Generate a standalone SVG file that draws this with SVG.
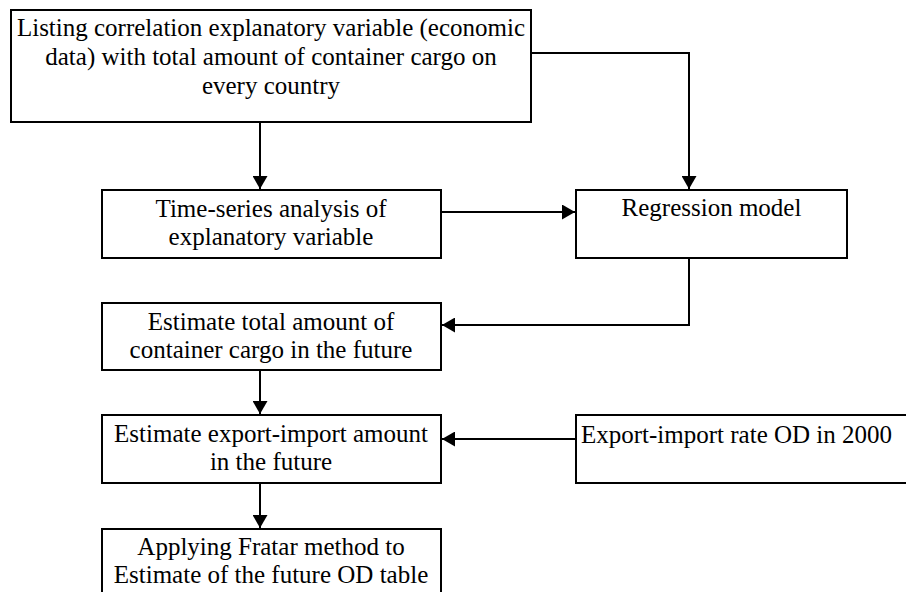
<svg xmlns="http://www.w3.org/2000/svg" width="906" height="592" viewBox="0 0 906 592">
<style>
.box{fill:#fff;stroke:#000;stroke-width:2}
.t{font-family:'Liberation Serif','DejaVu Serif',serif;font-size:25px;fill:#000;text-anchor:middle}
.tl{text-anchor:start}
.c{fill:none;stroke:#000;stroke-width:2}
</style>
<defs>
<marker id="ah" markerUnits="userSpaceOnUse" markerWidth="14" markerHeight="15" refX="13" refY="7.5" orient="auto">
<path d="M0,0 L13,7.5 L0,15 z" fill="#000"/>
</marker>
</defs>
<rect width="906" height="592" fill="#fff"/>
<g id="n1">
<rect class="box" x="11" y="10" width="520" height="112"/>
<text class="t" x="271" y="36">Listing correlation explanatory variable (economic</text>
<text class="t" x="271" y="65">data) with total amount of container cargo on</text>
<text class="t" x="271" y="94">every country</text>
</g>
<g id="n2">
<rect class="box" x="102" y="190" width="339" height="68"/>
<text class="t" x="271" y="217">Time-series analysis of</text>
<text class="t" x="271" y="245">explanatory variable</text>
</g>
<g id="n3">
<rect class="box" x="576" y="190" width="271" height="68"/>
<text class="t" x="711.5" y="216">Regression model</text>
</g>
<g id="n4">
<rect class="box" x="102" y="303" width="339" height="67"/>
<text class="t" x="271" y="330">Estimate total amount of</text>
<text class="t" x="271" y="358">container cargo in the future</text>
</g>
<g id="n5">
<rect class="box" x="102" y="415" width="339" height="68"/>
<text class="t" x="271" y="442">Estimate export-import amount</text>
<text class="t" x="271" y="470">in the future</text>
</g>
<g id="n6">
<rect class="box" x="576" y="415" width="340" height="68"/>
<text class="t tl" x="581" y="443">Export-import rate OD in 2000</text>
</g>
<g id="n7">
<rect class="box" x="102" y="529" width="339" height="70"/>
<text class="t" x="271" y="555">Applying Fratar method to</text>
<text class="t" x="271" y="583">Estimate of the future OD table</text>
</g>
<g id="connectors">
<path class="c" d="M260,122 V189" marker-end="url(#ah)"/>
<path class="c" d="M531,53 H689 V189" marker-end="url(#ah)"/>
<path class="c" d="M441,212 H575" marker-end="url(#ah)"/>
<path class="c" d="M689,258 V325 H442" marker-end="url(#ah)"/>
<path class="c" d="M260,370 V414" marker-end="url(#ah)"/>
<path class="c" d="M576,439 H442" marker-end="url(#ah)"/>
<path class="c" d="M260,483 V528" marker-end="url(#ah)"/>
</g>
</svg>
